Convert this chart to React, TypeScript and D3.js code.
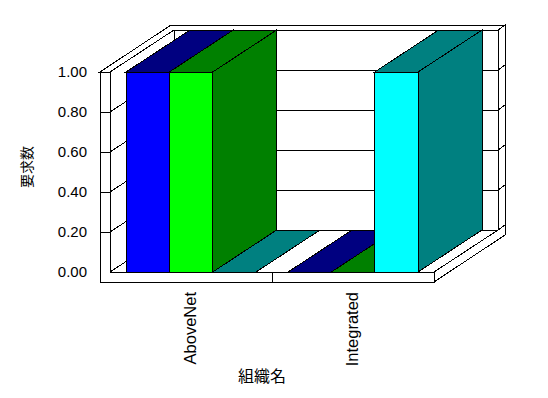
import React from "react";
import * as d3 from "d3";

// Chart data
const categories = ["AboveNet", "Integrated"];
const seriesNames = ["系列1", "系列2", "系列3"];
const seriesValues = [
  [1, 0],
  [1, 0],
  [0, 1],
];
const yTicks = [0, 0.2, 0.4, 0.6, 0.8, 1.0];
const frontColors = ["#0000ff", "#00ff00", "#00ffff"];
const shadeColors = ["#000080", "#008000", "#008080"];

const W = 548;
const H = 398;

// Oblique projection: depth of the plot box and of the back wall
const DX = 64;
const DY = -42;
const TX = 71;
const TY = -47;

const WALL_OUT = 100;
const PLOT_L = 110;
const PLOT_R = 434;
const FLOOR_T = 10;

const x = d3.scaleBand<string>().domain(categories).range([PLOT_L, PLOT_R]).padding(0);
const xs = d3
  .scaleBand<string>()
  .domain(seriesNames)
  .range([16, x.bandwidth() - 16])
  .padding(0);
const y = d3.scaleLinear().domain([0, 1]).range([272, 72]);

type P = [number, number];
const pts = (a: P[]) => a.map((p) => `${p[0]},${p[1]}`).join(" ");
const back = (p: P): P => [p[0] + DX, p[1] + DY];
const outer = (p: P): P => [p[0] + TX, p[1] + TY];

const stroke = { stroke: "#000", strokeWidth: 1, shapeRendering: "crispEdges" as const };

export default function App() {
  const y0 = y(0);
  const y1 = y(1);
  const fb = y0 + FLOOR_T;

  const bars: React.ReactNode[] = [];
  categories.forEach((c, ci) => {
    seriesNames.forEach((s, si) => {
      const v = seriesValues[si][ci];
      const xl = (x(c) as number) + (xs(s) as number);
      const xr = xl + xs.bandwidth();
      const yt = y(v);
      const fTL: P = [xl, yt];
      const fTR: P = [xr, yt];
      const fBR: P = [xr, y0];
      const fBL: P = [xl, y0];
      const key = `${ci}-${si}`;
      bars.push(
        <g key={key}>
          {v > 0 && (
            <polygon points={pts([fTR, back(fTR), back(fBR), fBR])} fill={shadeColors[si]} {...stroke} />
          )}
          <polygon points={pts([fTL, fTR, back(fTR), back(fTL)])} fill={shadeColors[si]} {...stroke} />
          {v > 0 && <polygon points={pts([fTL, fTR, fBR, fBL])} fill={frontColors[si]} {...stroke} />}
        </g>
      );
    });
  });

  const inner = yTicks.filter((t) => t > 0 && t < 1);

  return (
    <svg
      width={W}
      height={H}
      style={{ position: "absolute", left: 0, top: 0, background: "#fff" }}
      fontFamily="'Liberation Sans', Arial, sans-serif"
    >
      {/* back wall, inner face */}
      <rect x={PLOT_L + DX} y={y1 + DY} width={PLOT_R - PLOT_L} height={y0 - y1} fill="#fff" {...stroke} />
      {inner.map((t) => (
        <line key={`bg${t}`} x1={PLOT_L + DX} x2={PLOT_R + DX} y1={y(t) + DY} y2={y(t) + DY} {...stroke} />
      ))}

      {/* left wall, inner face */}
      <polygon
        points={pts([[PLOT_L, y1], back([PLOT_L, y1]), back([PLOT_L, y0]), [PLOT_L, y0]])}
        fill="#fff"
        {...stroke}
      />
      {inner.map((t) => (
        <line key={`lg${t}`} x1={PLOT_L} y1={y(t)} x2={PLOT_L + DX} y2={y(t) + DY} {...stroke} />
      ))}

      {/* floor top */}
      <polygon
        points={pts([[PLOT_L, y0], [PLOT_R, y0], back([PLOT_R, y0]), back([PLOT_L, y0])])}
        fill="#fff"
        {...stroke}
      />

      {/* top of left wall and back wall */}
      <polygon
        points={pts([
          [WALL_OUT, y1],
          [PLOT_L, y1],
          back([PLOT_L, y1]),
          back([PLOT_R, y1]),
          outer([PLOT_R, y1]),
          outer([WALL_OUT, y1]),
        ])}
        fill="#fff"
        {...stroke}
      />

      {/* right face of back wall and floor */}
      <polygon
        points={pts([
          [PLOT_R, y0],
          back([PLOT_R, y0]),
          back([PLOT_R, y1]),
          outer([PLOT_R, y1]),
          outer([PLOT_R, fb]),
          [PLOT_R, fb],
        ])}
        fill="#fff"
        {...stroke}
      />
      {yTicks
        .filter((t) => t < 1)
        .map((t) => (
          <line
            key={`rg${t}`}
            x1={PLOT_R + DX}
            y1={y(t) + DY}
            x2={PLOT_R + TX}
            y2={y(t) + TY}
            {...stroke}
          />
        ))}

      {/* front of left wall and floor slab */}
      <polygon
        points={pts([
          [WALL_OUT, y1],
          [PLOT_L, y1],
          [PLOT_L, y0],
          [PLOT_R, y0],
          [PLOT_R, fb],
          [WALL_OUT, fb],
        ])}
        fill="#fff"
        {...stroke}
      />
      {inner.map((t) => (
        <line key={`fg${t}`} x1={WALL_OUT} x2={PLOT_L} y1={y(t)} y2={y(t)} {...stroke} />
      ))}
      <line x1={x(categories[1]) as number} x2={x(categories[1]) as number} y1={y0} y2={fb} {...stroke} />

      {bars}

      {/* value axis labels */}
      {yTicks.map((t) => (
        <text key={`yt${t}`} x={87} y={y(t)} dy="0.36em" textAnchor="end" fontSize={15} fill="#000">
          {t.toFixed(2)}
        </text>
      ))}
      <text
        transform="translate(26,167) rotate(-90)"
        textAnchor="middle"
        dominantBaseline="central"
        fontSize={14}
        fontFamily="'Noto Sans CJK JP', sans-serif"
        fill="#000"
      >
        要求数
      </text>

      {/* category labels */}
      {categories.map((c) => (
        <text
          key={c}
          transform={`translate(${(x(c) as number) + x.bandwidth() / 2 - 1},292) rotate(-90)`}
          textAnchor="end"
          dominantBaseline="central"
          fontSize={16.5}
          fill="#000"
        >
          {c}
        </text>
      ))}
      <text
        x={262}
        y={375}
        textAnchor="middle"
        dominantBaseline="central"
        fontSize={16}
        fontFamily="'Noto Sans CJK JP', sans-serif"
        fill="#000"
      >
        組織名
      </text>
    </svg>
  );
}
